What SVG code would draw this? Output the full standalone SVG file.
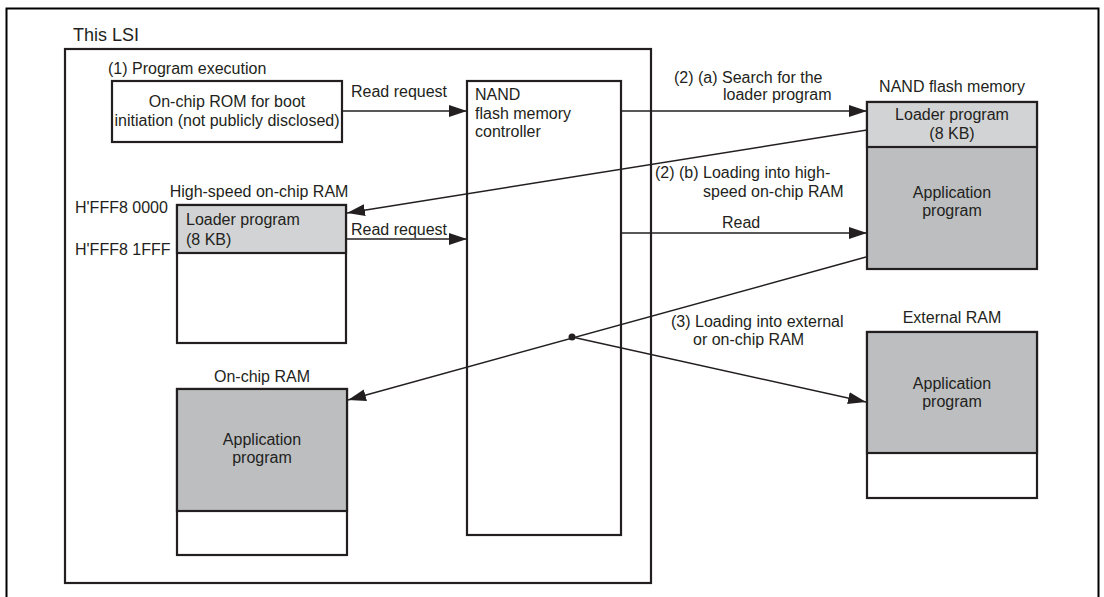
<svg xmlns="http://www.w3.org/2000/svg" width="1104" height="597" viewBox="0 0 1104 597">
<defs>
<style>
text{font-family:"Liberation Sans",Arial,sans-serif;font-size:16px;fill:#231f20}
.t18{font-size:18px}
.c{text-anchor:middle}
.box{stroke:#231f20;stroke-width:2.2;fill:#fff}
.light{fill:#d1d3d4}
.dark{fill:#bcbec0}
.ln{stroke:#231f20;stroke-width:1.4;fill:none}
</style>
<marker id="ah" markerUnits="userSpaceOnUse" markerWidth="18" markerHeight="12" viewBox="0 0 18 12" refX="18" refY="6" orient="auto">
<path d="M0,0 L18,6 L0,12 Z" fill="#231f20"/>
</marker>
</defs>
<rect x="0" y="0" width="1104" height="597" fill="#fff"/>
<rect x="6.5" y="8.5" width="1092" height="590" fill="none" stroke="#000" stroke-width="2"/>

<g id="lsi">
<rect class="box" x="65" y="49" width="586" height="534" fill="none"/>
<text class="t18" x="73" y="41">This LSI</text>
</g>

<g id="rom">
<text x="108" y="74">(1) Program execution</text>
<rect class="box" x="112" y="81" width="230" height="61"/>
<text class="c" x="227" y="107">On-chip ROM for boot</text>
<text class="c" x="227" y="126">initiation (not publicly disclosed)</text>
</g>

<g id="nandc">
<rect class="box" x="467" y="81" width="154" height="454"/>
<text x="475" y="100">NAND</text>
<text x="475" y="118.5">flash memory</text>
<text x="475" y="137">controller</text>
</g>

<g id="hsram">
<text class="c" x="259" y="197">High-speed on-chip RAM</text>
<text x="75" y="213">H'FFF8 0000</text>
<text x="75" y="255">H'FFF8 1FFF</text>
<rect class="box" x="177" y="205" width="169" height="138"/>
<rect class="box light" x="177" y="205" width="169" height="48"/>
<text x="186" y="225">Loader program</text>
<text x="186" y="245">(8 KB)</text>
</g>

<g id="ocram">
<text class="c" x="262" y="382">On-chip RAM</text>
<rect class="box" x="177" y="389" width="170" height="166"/>
<rect class="box dark" x="177" y="389" width="170" height="122"/>
<text class="c" x="262" y="445">Application</text>
<text class="c" x="262" y="463">program</text>
</g>

<g id="flash">
<text class="c" x="952" y="92">NAND flash memory</text>
<rect class="box dark" x="867" y="102" width="170" height="167"/>
<rect class="box light" x="867" y="102" width="170" height="45"/>
<text class="c" x="952" y="120">Loader program</text>
<text class="c" x="952" y="139">(8 KB)</text>
<text class="c" x="952" y="198">Application</text>
<text class="c" x="952" y="216">program</text>
</g>

<g id="extram">
<text class="c" x="952" y="323">External RAM</text>
<rect class="box" x="867" y="332" width="170" height="166"/>
<rect class="box dark" x="867" y="332" width="170" height="121"/>
<text class="c" x="952" y="389">Application</text>
<text class="c" x="952" y="407">program</text>
</g>

<g id="connectors">
<line class="ln" x1="342" y1="111" x2="467" y2="111" marker-end="url(#ah)"/>
<text x="351" y="97">Read request</text>
<line class="ln" x1="621" y1="111" x2="867" y2="111" marker-end="url(#ah)"/>
<text x="674" y="83">(2) (a) Search for the</text>
<text x="723" y="100">loader program</text>
<line class="ln" x1="867" y1="130" x2="347" y2="213" marker-end="url(#ah)"/>
<text x="655" y="178">(2) (b) Loading into high-</text>
<text x="703" y="197">speed on-chip RAM</text>
<line class="ln" x1="621" y1="233" x2="867" y2="233" marker-end="url(#ah)"/>
<text x="722" y="228">Read</text>
<line class="ln" x1="346" y1="239" x2="467" y2="239" marker-end="url(#ah)"/>
<text x="351" y="235">Read request</text>
<line class="ln" x1="866" y1="257" x2="348" y2="400" marker-end="url(#ah)"/>
<line class="ln" x1="572" y1="337" x2="866" y2="402" marker-end="url(#ah)"/>
<circle cx="572" cy="337" r="3.5" fill="#231f20"/>
<text x="671" y="327">(3) Loading into external</text>
<text x="693" y="345">or on-chip RAM</text>
</g>
</svg>
